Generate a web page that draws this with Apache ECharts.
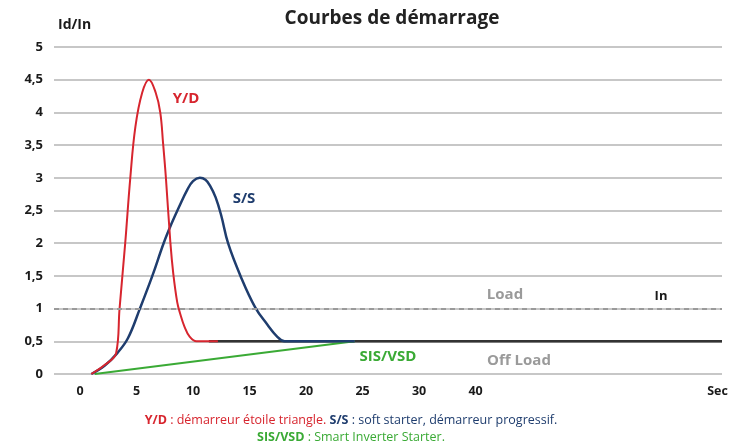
<!DOCTYPE html>
<html>
<head>
<meta charset="utf-8">
<script src="https://cdn.jsdelivr.net/npm/echarts@6/dist/echarts.min.js"></script>
<style>
  html, body { margin: 0; padding: 0; background: #fff; }
  #chart { width: 750px; height: 448px; }
</style>
</head>
<body>
<div id="chart"></div>
<script>
// courbes : [temps (s), Id/In]
const starDelta = [[1, 0], [2.2, 0.14], [3.2, 0.32], [3.5, 1], [4.0, 2], [4.45, 3], [4.9, 3.78], [5.5, 4.3],
  [6.1, 4.5], [6.7, 4.3], [7.1, 4.0], [7.35, 3.53], [7.6, 3.0], [8.0, 2.0], [8.25, 1.54], [8.6, 1.1],
  [8.85, 0.93], [9.25, 0.72], [9.7, 0.57], [10.3, 0.5], [12.2, 0.5]]
const softStarter = [[1, 0], [2.2, 0.13], [3.3, 0.32], [4.25, 0.55], [5.3, 1], [6.4, 1.5], [7.4, 2],
  [8.1, 2.3], [8.8, 2.57], [9.5, 2.82], [10.0, 2.95], [10.6, 3.0], [11.1, 2.97], [11.5, 2.88], [12.0, 2.7],
  [12.5, 2.42], [13.1, 2.0], [14.2, 1.5], [15.5, 1.02], [16.6, 0.75], [17.4, 0.58], [18.1, 0.5], [24.3, 0.5]]
const smartInverter = [[1.3, 0], [24.3, 0.5]]
const offLoad = [[11.4, 0.5], [56.8, 0.5]]
const loadLevel = 1
const xTicks = [0, 5, 10, 15, 20, 25, 30, 35, 56.4]
const xTickLabels = ['0', '5', '10', '15', '20', '25', '30', '40', 'Sec']

const RED = '#d7252e'
const BLUE = '#1f3d6e'
const GREEN = '#3aaa35'
const GREY = '#9a9a9a'
const FONT = '"Open Sans", "Noto Sans", sans-serif'

const chart = echarts.init(document.getElementById('chart'))

chart.setOption({
  animation: false,
  textStyle: { fontFamily: FONT },
  title: {
    text: 'Courbes de démarrage',
    left: 387,
    top: 4,
    textAlign: 'center',
    textStyle: { fontFamily: FONT, fontSize: 19, fontWeight: 'bold', color: '#222' }
  },
  grid: { left: 54, right: 28, top: 47, bottom: 74 },
  xAxis: {
    type: 'value',
    min: -2.3,
    max: 56.8,
    axisLine: { show: false },
    axisTick: { show: false },
    splitLine: { show: false },
    axisLabel: {
      customValues: xTicks,
      margin: 11,
      fontSize: 12.5,
      fontWeight: 'bold',
      color: '#1a1a1a',
      formatter: v => xTickLabels[xTicks.indexOf(v)]
    }
  },
  yAxis: {
    type: 'value',
    min: 0,
    max: 5,
    interval: 0.5,
    axisLine: { show: false },
    axisTick: { show: false },
    splitLine: { lineStyle: { color: '#b4b4b4', width: 1.5 } },
    axisLabel: {
      margin: 11,
      fontSize: 13,
      fontWeight: 'bold',
      color: '#1a1a1a',
      formatter: v => String(v).replace('.', ',')
    }
  },
  series: [
    {
      name: 'Off Load',
      type: 'line',
      data: offLoad,
      symbol: 'none',
      lineStyle: { color: '#333', width: 2.5 },
      markLine: {
        silent: true,
        symbol: 'none',
        label: { show: false },
        lineStyle: { color: GREY, type: [5, 4], width: 2 },
        data: [{ yAxis: loadLevel }]
      }
    },
    {
      name: 'SIS/VSD',
      type: 'line',
      data: smartInverter,
      symbol: 'none',
      lineStyle: { color: GREEN, width: 2 }
    },
    {
      name: 'S/S',
      type: 'line',
      data: softStarter,
      symbol: 'none',
      smooth: 0.4,
      lineStyle: { color: BLUE, width: 2.5 }
    },
    {
      name: 'Y/D',
      type: 'line',
      data: starDelta,
      symbol: 'none',
      smooth: 0.4,
      lineStyle: { color: RED, width: 2 }
    }
  ],
  graphic: [
    { type: 'text', x: 58, y: 25, style: { text: 'Id/In', fill: '#1a1a1a', font: 'bold 14px ' + FONT, align: 'left', verticalAlign: 'middle' } },
    { type: 'text', x: 186, y: 99, style: { text: 'Y/D', fill: RED, font: 'bold 15px ' + FONT, align: 'center', verticalAlign: 'middle' } },
    { type: 'text', x: 244, y: 199, style: { text: 'S/S', fill: BLUE, font: 'bold 15px ' + FONT, align: 'center', verticalAlign: 'middle' } },
    { type: 'text', x: 388, y: 357, style: { text: 'SIS/VSD', fill: GREEN, font: 'bold 15px ' + FONT, align: 'center', verticalAlign: 'middle' } },
    { type: 'text', x: 505, y: 295, style: { text: 'Load', fill: GREY, font: 'bold 15px ' + FONT, align: 'center', verticalAlign: 'middle' } },
    { type: 'text', x: 661, y: 296, style: { text: 'In', fill: '#1a1a1a', font: 'bold 13px ' + FONT, align: 'center', verticalAlign: 'middle' } },
    { type: 'text', x: 519, y: 361, style: { text: 'Off Load', fill: GREY, font: 'bold 15px ' + FONT, align: 'center', verticalAlign: 'middle' } },
    {
      type: 'text', x: 351, y: 420,
      style: {
        text: '{r|Y/D}{rt| : démarreur étoile triangle. }{b|S/S}{bt| : soft starter, démarreur progressif.}',
        align: 'center', verticalAlign: 'middle',
        rich: {
          r: { fill: RED, fontFamily: FONT, fontSize: 12.5, fontWeight: 'bold' },
          rt: { fill: RED, fontFamily: FONT, fontSize: 12.5 },
          b: { fill: BLUE, fontFamily: FONT, fontSize: 12.5, fontWeight: 'bold' },
          bt: { fill: BLUE, fontFamily: FONT, fontSize: 12.5 }
        }
      }
    },
    {
      type: 'text', x: 351, y: 437,
      style: {
        text: '{g|SIS/VSD}{gt| : Smart Inverter Starter.}',
        align: 'center', verticalAlign: 'middle',
        rich: {
          g: { fill: GREEN, fontFamily: FONT, fontSize: 12.5, fontWeight: 'bold' },
          gt: { fill: GREEN, fontFamily: FONT, fontSize: 12.5 }
        }
      }
    }
  ]
})
</script>
</body>
</html>
